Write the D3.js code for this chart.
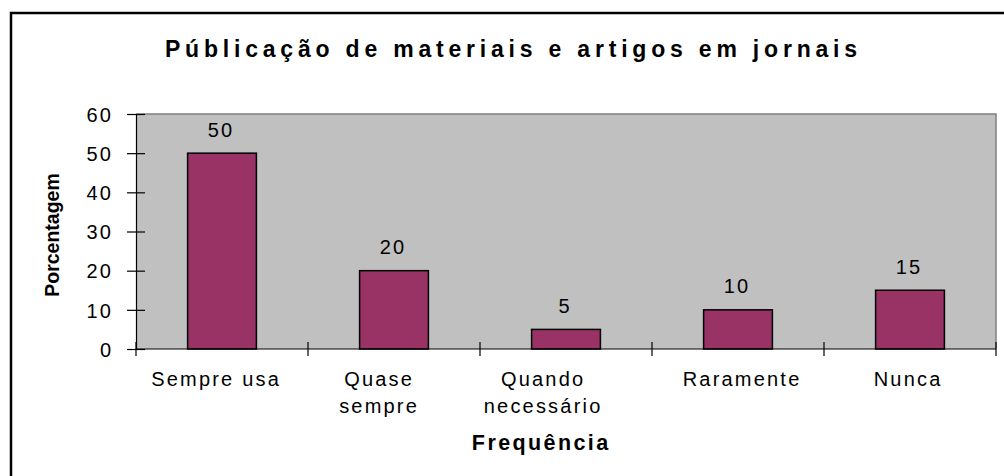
<!DOCTYPE html>
<html>
<head>
<meta charset="utf-8">
<script src="https://cdn.jsdelivr.net/npm/d3@7"></script>
<style>
  html, body { margin: 0; padding: 0; background: #fff; }
  svg { display: block; font-family: "Liberation Sans", Arial, sans-serif; }
</style>
</head>
<body>
<svg id="chart"></svg>
<script>
const categories = [["Sempre usa"], ["Quase", "sempre"], ["Quando", "necessário"], ["Raramente"], ["Nunca"]];
const values = [50, 20, 5, 10, 15];
const yTicks = [0, 10, 20, 30, 40, 50, 60];
const chartTitle = "Públicação de materiais e artigos em jornais";
const yTitle = "Porcentagem";
const xTitle = "Frequência";

const width = 1004;
const height = 476;
const plot = { left: 136, right: 996, top: 114, bottom: 349 };
const fs = 20;   // size of the small texts
const ls = 2.2;  // letter spacing of the small texts
// the original places its category labels a little off the band centres
const labelShift = [-7, -16, -24, 3, -3];

const svg = d3.select("#chart").attr("width", width).attr("height", height);

svg.append("rect").attr("width", width).attr("height", height).attr("fill", "#fff");

// frame around the chart (only top and left are inside the picture)
svg.append("path")
    .attr("d", `M11,${height} V13 H${width}`)
    .attr("fill", "none")
    .attr("stroke", "#000")
    .attr("stroke-width", 2.5);

const x = d3.scaleBand()
    .domain(d3.range(categories.length))
    .range([plot.left, plot.right])
    .paddingInner(0.6)
    .paddingOuter(0.3);

const y = d3.scaleLinear()
    .domain([0, 60])
    .range([plot.bottom, plot.top]);

// grey plot area
svg.append("rect")
    .attr("x", plot.left)
    .attr("y", plot.top)
    .attr("width", plot.right - plot.left)
    .attr("height", plot.bottom - plot.top)
    .attr("fill", "#c0c0c0");

svg.append("path")
    .attr("d", `M${plot.left},${plot.top} H${plot.right} V${plot.bottom}`)
    .attr("fill", "none")
    .attr("stroke", "#808080")
    .attr("stroke-width", 1.5);

// bars
svg.append("g")
    .selectAll("rect")
    .data(values)
    .join("rect")
    .attr("x", (d, i) => x(i))
    .attr("y", d => y(d))
    .attr("width", x.bandwidth())
    .attr("height", d => y(0) - y(d))
    .attr("fill", "#993366")
    .attr("stroke", "#000")
    .attr("stroke-width", 1.5);

// value labels
svg.append("g")
    .selectAll("text")
    .data(values)
    .join("text")
    .attr("x", (d, i) => x(i) + x.bandwidth() / 2 + ls / 2 - 2)
    .attr("y", d => y(d) - 16.5)
    .attr("text-anchor", "middle")
    .attr("font-size", fs)
    .attr("letter-spacing", ls)
    .text(d => d);

// y axis
const yAxis = svg.append("g")
    .attr("transform", `translate(${plot.left},0)`)
    .call(d3.axisLeft(y).tickValues(yTicks).tickSize(9).tickSizeOuter(0).tickPadding(15));

yAxis.select(".domain").attr("stroke", "#000").attr("stroke-width", 1.2);
yAxis.selectAll(".tick line").attr("x2", -9).attr("x1", 9).attr("stroke", "#000").attr("stroke-width", 1.2);
yAxis.selectAll(".tick text")
    .attr("font-size", fs)
    .attr("font-family", "Liberation Sans, Arial, sans-serif")
    .attr("letter-spacing", ls)
    .attr("dx", ls - 1)
    .attr("dy", "0.36em")
    .attr("fill", "#000");

// x axis line and boundary ticks
const step = x.step();
const bounds = d3.range(categories.length + 1).map(i => plot.left + i * step);

svg.append("line")
    .attr("x1", plot.left).attr("x2", plot.right)
    .attr("y1", plot.bottom).attr("y2", plot.bottom)
    .attr("stroke", "#000").attr("stroke-width", 1.2);

svg.append("g")
    .selectAll("line")
    .data(bounds)
    .join("line")
    .attr("x1", d => d).attr("x2", d => d)
    .attr("y1", plot.bottom - 7).attr("y2", plot.bottom + 7)
    .attr("stroke", "#000").attr("stroke-width", 1.2);

// category labels
const catLabels = svg.append("g")
    .selectAll("text")
    .data(categories)
    .join("text")
    .attr("x", (d, i) => x(i) + x.bandwidth() / 2 + ls / 2 + labelShift[i])
    .attr("y", 386)
    .attr("text-anchor", "middle")
    .attr("font-size", fs)
    .attr("letter-spacing", ls);

catLabels.selectAll("tspan")
    .data(d => d)
    .join("tspan")
    .attr("x", function () { return this.parentNode.getAttribute("x"); })
    .attr("dy", (d, i) => i === 0 ? 0 : 27)
    .text(d => d);

// titles
svg.append("text")
    .attr("x", 511 + 2.4)
    .attr("y", 57)
    .attr("text-anchor", "middle")
    .attr("font-size", 23)
    .attr("font-weight", "bold")
    .attr("letter-spacing", 4.8)
    .text(chartTitle);

svg.append("text")
    .attr("x", 540 + 1.2)
    .attr("y", 450)
    .attr("text-anchor", "middle")
    .attr("font-size", 21.5)
    .attr("font-weight", "bold")
    .attr("letter-spacing", 2.4)
    .text(xTitle);

svg.append("text")
    .attr("transform", "translate(59,235) rotate(-90)")
    .attr("text-anchor", "middle")
    .attr("font-size", 19.5)
    .attr("font-weight", "bold")
    .text(yTitle);
</script>
</body>
</html>
